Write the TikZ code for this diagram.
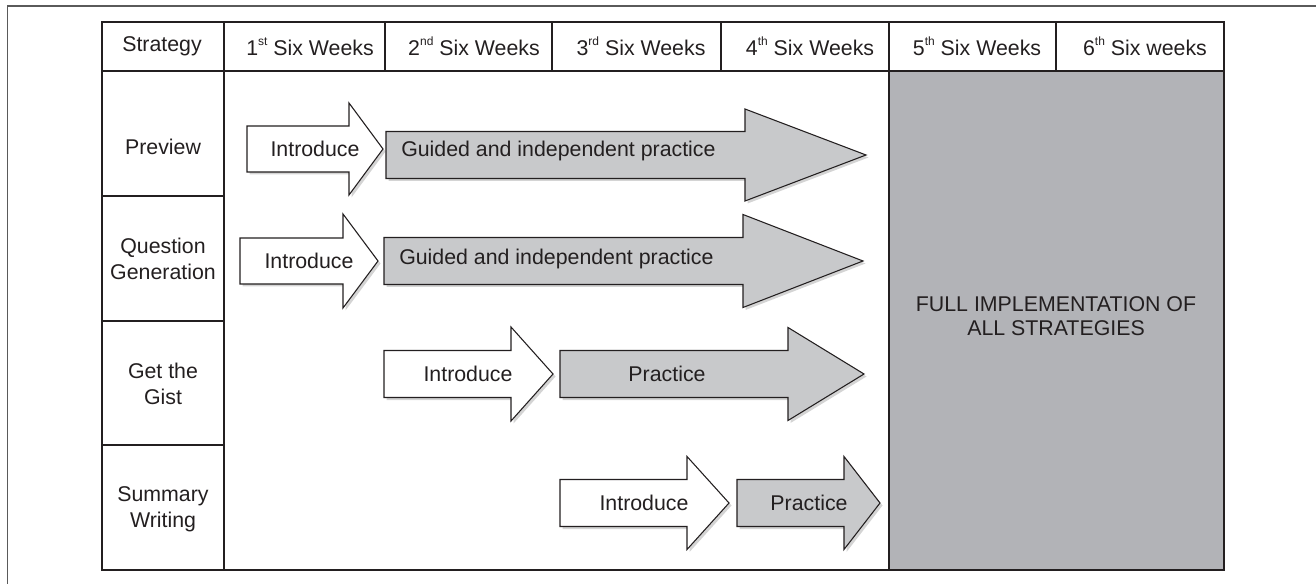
\documentclass[tikz,border=0pt]{standalone}
\usepackage{fontspec}
\setmainfont{Liberation Sans}
\usetikzlibrary{calc}
\definecolor{ink}{HTML}{231F20}
\definecolor{framec}{HTML}{5A5A5A}
\definecolor{arrowgrey}{HTML}{C8C9CB}
\definecolor{fullgrey}{HTML}{B2B3B7}
\definecolor{shadowc}{HTML}{D4D4D4}
\newcommand\supx[1]{\raisebox{0.48em}{\fontsize{9pt}{9pt}\selectfont #1}}
\newcommand\arrowshape[7]{%
  \fill[shadowc,shift={(2.5,2.5)}] (#2,{#5-#6}) -- (#3,{#5-#6}) -- (#3,{#5-#7}) -- (#4,#5) -- (#3,{#5+#7}) -- (#3,{#5+#6}) -- (#2,{#5+#6}) -- cycle;
  \draw[#1] (#2,{#5-#6}) -- (#3,{#5-#6}) -- (#3,{#5-#7}) -- (#4,#5) -- (#3,{#5+#7}) -- (#3,{#5+#6}) -- (#2,{#5+#6}) -- cycle;}
\tikzset{
  introarrow/.style={draw=ink,fill=white,line width=0.8pt,line join=miter},
  practarrow/.style={draw=ink,fill=arrowgrey,line width=0.8pt,line join=miter},
  txt/.style={font=\fontsize{16pt}{19.5pt}\selectfont,text=ink,inner sep=0pt,align=center},
  gridline/.style={draw=ink,line width=1pt},
}
\begin{document}
\begin{tikzpicture}[x=0.75pt,y=-0.75pt]
\useasboundingbox (0,0) rectangle (1316,584);
% outer frame (open at right and bottom)
\draw[framec,line width=1.1pt] (7.5,584) -- (7.5,6) -- (1316,6);
% grey full-implementation block
\fill[fullgrey] (889,71) rectangle (1224,570);
% table grid
\draw[gridline] (102,22) rectangle (1224,570);
\draw[gridline] (102,71) -- (1224,71);
\draw[gridline] (224,22) -- (224,570);
\draw[gridline] (889,22) -- (889,570);
\foreach \xx in {385,552,721,1056} \draw[gridline] (\xx,22) -- (\xx,71);
\foreach \yy in {196,321,445} \draw[gridline] (102,\yy) -- (224,\yy);
% header texts
\node[txt] (hstrat) at (162,46.5) {Strategy};
\node[txt] (h1) at (310,46.5) {1\supx{st} Six Weeks};
\node[txt] (h2) at (474,46.5) {2\supx{nd} Six Weeks};
\node[txt] (h3) at (641,46.5) {3\supx{rd} Six Weeks};
\node[txt] (h4) at (810,46.5) {4\supx{th} Six Weeks};
\node[txt] (h5) at (977,46.5) {5\supx{th} Six Weeks};
\node[txt] (h6) at (1145,46.5) {6\supx{th} Six weeks};
% row labels
\node[txt] (rpreview) at (163,147) {Preview};
\node[txt] (rquestion) at (163,259) {Question\\Generation};
\node[txt] (rgist) at (163,383.5) {Get the\\Gist};
\node[txt] (rsummary) at (163,509) {Summary\\Writing};
% arrows
\arrowshape{introarrow}{247}{349}{383}{149}{23}{46}
\arrowshape{practarrow}{386}{745}{866}{155}{23.5}{46}
\arrowshape{introarrow}{240}{343}{378}{261}{23}{47}
\arrowshape{practarrow}{384}{743}{863}{261}{23.5}{46.5}
\arrowshape{introarrow}{384}{511}{553}{374}{23.5}{47}
\arrowshape{practarrow}{560}{788}{864}{374}{23.5}{46.5}
\arrowshape{introarrow}{560}{687}{729}{503}{23.5}{46.5}
\arrowshape{practarrow}{737}{844}{880}{503}{23.5}{46.5}
% arrow texts
\node[txt] (i1) at (315,149) {Introduce};
\node[txt,anchor=west] (g1) at (401,151) {Guided and independent practice};
\node[txt] (i2) at (309,261) {Introduce};
\node[txt,anchor=west] (g2) at (399,259) {Guided and independent practice};
\node[txt] (i3) at (468,374) {Introduce};
\node[txt] (p3) at (667,374) {Practice};
\node[txt] (i4) at (644,503) {Introduce};
\node[txt] (p4) at (809,503) {Practice};
% full implementation
\node[txt,font=\fontsize{16pt}{18pt}\selectfont] (full) at (1056,316) {FULL IMPLEMENTATION OF\\ALL STRATEGIES};
\end{tikzpicture}
\end{document}
